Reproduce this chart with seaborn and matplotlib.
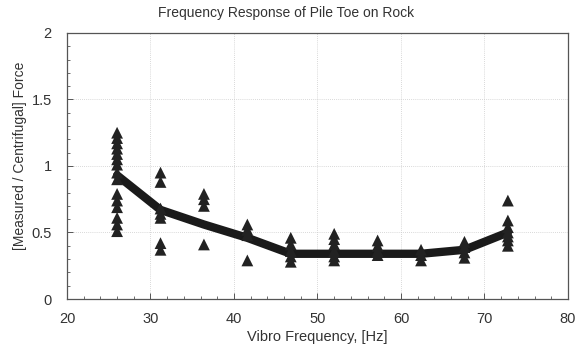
import numpy as np
import pandas as pd
import matplotlib
matplotlib.use("Agg")
import matplotlib.pyplot as plt
import seaborn as sns
from matplotlib.ticker import MultipleLocator

sns.set_theme(style="white")
plt.rcParams['font.family'] = ['Liberation Sans', 'DejaVu Sans']

# measured points per vibro frequency
f26 = [1.25, 1.21, 1.17, 1.13, 1.09, 1.05, 1.01, 0.95, 0.90, 0.79, 0.74, 0.69, 0.61, 0.56, 0.51]
f31 = [0.95, 0.88, 0.68, 0.64, 0.61, 0.42, 0.37]
f36 = [0.79, 0.75, 0.70, 0.41]
f41 = [0.56, 0.52, 0.48, 0.29]
f47 = [0.46, 0.41, 0.36, 0.32, 0.28]
f52 = [0.49, 0.45, 0.41, 0.36, 0.32, 0.29]
f57 = [0.44, 0.40, 0.36, 0.33]
f62 = [0.37, 0.33, 0.29]
f67 = [0.43, 0.39, 0.35, 0.31]
f73 = [0.74, 0.59, 0.54, 0.50, 0.47, 0.44, 0.40]

freqs = [26, 31.2, 36.4, 41.6, 46.8, 52, 57.2, 62.4, 67.6, 72.8]
groups = [f26, f31, f36, f41, f47, f52, f57, f62, f67, f73]

# trend line
trend = [0.93, 0.67, 0.56, 0.46, 0.34, 0.34, 0.34, 0.34, 0.37, 0.50]

title = "Frequency Response of Pile Toe on Rock"
xlabel = "Vibro Frequency, [Hz]"
ylabel = "[Measured / Centrifugal] Force"

pts = pd.DataFrame({
    "freq": [f for f, g in zip(freqs, groups) for _ in g],
    "ratio": [v for g in groups for v in g],
})
line = pd.DataFrame({"freq": freqs, "ratio": trend})

fig = plt.figure(figsize=(5.79, 3.47), dpi=100)
ax = fig.add_axes([0.1157, 0.1383, 0.8653, 0.7667])

txt = "#333333"
sns.lineplot(data=line, x="freq", y="ratio", ax=ax, color="#1a1a1a", lw=6,
             solid_joinstyle="round", solid_capstyle="round", zorder=3)
sns.scatterplot(data=pts, x="freq", y="ratio", ax=ax, marker="^", s=72,
                color="#222222", edgecolor="none", zorder=4)

ax.set_xlim(20, 80)
ax.set_ylim(0, 2)
ax.xaxis.set_major_locator(MultipleLocator(10))
ax.xaxis.set_minor_locator(MultipleLocator(2))
ax.yaxis.set_major_locator(MultipleLocator(0.5))
ax.yaxis.set_minor_locator(MultipleLocator(0.1))
ax.set_yticks([0, 0.5, 1, 1.5, 2])
ax.set_yticklabels(["0", "0.5", "1", "1.5", "2"])
ax.grid(True, which="major", color="#cccccc", lw=0.6, ls=(0, (1, 1.5)))
ax.tick_params(which="major", direction="in", length=4, width=0.7, colors="#555555",
               labelcolor=txt, labelsize=10.5, bottom=True, left=True)
ax.tick_params(axis="x", which="major", pad=9)
ax.tick_params(axis="y", which="major", pad=11)
ax.tick_params(which="minor", direction="in", length=2, width=0.6, colors="#555555",
               bottom=True, left=True)
for s in ax.spines.values():
    s.set_color("#555555")
    s.set_linewidth(0.9)

fig.text(286 / 579, 1 - 13 / 347, title, fontsize=10, color=txt,
         ha="center", va="center")
ax.set_xlabel(xlabel, fontsize=10.5, color=txt, labelpad=3)
ax.set_ylabel(ylabel, fontsize=10, color=txt)
ax.yaxis.set_label_coords(-0.094, 0.54)
ax.yaxis.label.set_va("center")

fig.savefig("out.png", dpi=100)
